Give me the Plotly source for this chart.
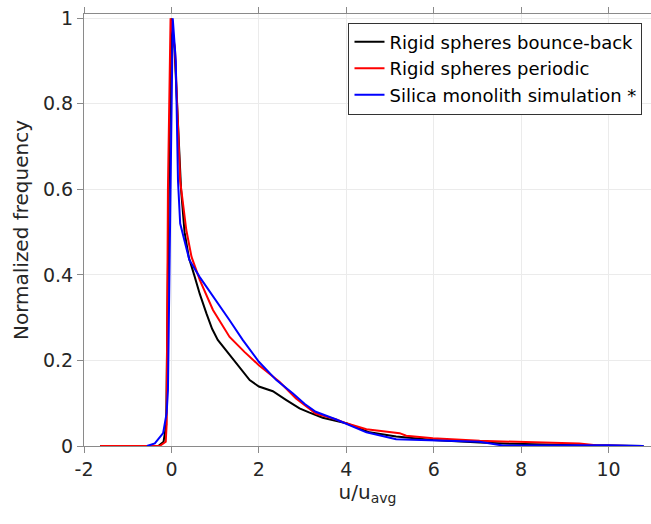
import plotly.graph_objects as go

# Rigid spheres bounce-back (black)
bb_x = [-1.63, -0.3, -0.18, -0.12, -0.06, 0.0, 0.07, 0.15, 0.22, 0.3, 0.4, 0.52, 0.65, 0.8, 0.93, 1.06, 1.2, 1.33, 1.6, 1.79, 2.0, 2.32, 2.62, 2.93, 3.16, 3.46, 4.0, 4.53, 5.14, 5.98, 7.05, 7.81, 9.33, 10.1, 10.8]
bb_y = [0, 0, 0.01, 0.05, 0.6, 1.0, 0.93, 0.75, 0.6, 0.5, 0.44, 0.4, 0.355, 0.31, 0.274, 0.248, 0.23, 0.215, 0.178, 0.154, 0.139, 0.128, 0.108, 0.088, 0.078, 0.066, 0.053, 0.032, 0.022, 0.014, 0.008, 0.005, 0.002, 0.001, 0]

# Rigid spheres periodic (red)
per_x = [-1.63, -0.27, -0.13, -0.11, -0.08, -0.02, 0.08, 0.2, 0.34, 0.46, 0.65, 0.95, 1.33, 1.67, 2.0, 2.32, 2.47, 2.85, 3.3, 3.77, 4.0, 4.46, 5.0, 5.22, 5.37, 5.98, 7.05, 8.57, 9.33, 9.71, 10.47]
per_y = [0, 0, 0.01, 0.05, 0.6, 1.0, 0.93, 0.62, 0.505, 0.442, 0.388, 0.318, 0.255, 0.22, 0.189, 0.162, 0.150, 0.111, 0.076, 0.062, 0.053, 0.039, 0.032, 0.030, 0.024, 0.018, 0.012, 0.008, 0.006, 0.002, 0]

# Silica monolith simulation (blue)
sil_x = [-0.56, -0.38, -0.19, -0.11, -0.08, 0.03, 0.1, 0.15, 0.2, 0.26, 0.41, 0.64, 1.02, 1.33, 1.63, 2.0, 2.4, 2.78, 3.05, 3.3, 3.77, 4.0, 4.46, 5.14, 5.98, 7.05, 7.58, 9.33, 10.0, 10.8]
sil_y = [0, 0.006, 0.03, 0.077, 0.13, 1.0, 0.9, 0.62, 0.52, 0.497, 0.435, 0.396, 0.341, 0.294, 0.248, 0.197, 0.154, 0.123, 0.098, 0.08, 0.062, 0.052, 0.032, 0.016, 0.014, 0.010, 0.001, 0.001, 0.002, 0]

names = ["Rigid spheres bounce-back", "Rigid spheres periodic", "Silica monolith simulation *"]
colors = ["#000000", "#ff0000", "#0000ff"]

x_ticks = [-2, 0, 2, 4, 6, 8, 10]
x_tick_text = ["-2", "0", "2", "4", "6", "8", "10"]
y_ticks = [0, 0.2, 0.4, 0.6, 0.8, 1]
y_tick_text = ["0", "0.2", "0.4", "0.6", "0.8", "1"]

FONT = "DejaVu Sans"

fig = go.Figure()
for xs, ys, nm, c in zip([bb_x, per_x, sil_x], [bb_y, per_y, sil_y], names, colors):
    fig.add_trace(go.Scatter(x=xs, y=ys, mode="lines", name=nm,
                             line=dict(color=c, width=2)))

axis_common = dict(
    showline=True, linecolor="#8a8a8a", linewidth=1,
    showgrid=True, gridcolor="#ebebeb", gridwidth=1,
    ticks="outside", ticklen=6, tickcolor="#8a8a8a",
    tickfont=dict(family=FONT, size=19, color="#262626"),
    zeroline=False,
)

fig.update_layout(
    width=651, height=524,
    margin=dict(l=84, r=0, t=14, b=78),
    paper_bgcolor="white", plot_bgcolor="white",
    font=dict(family=FONT, color="#262626"),
    xaxis=dict(range=[-2, 10.97], tickvals=x_ticks, ticktext=x_tick_text,
               mirror="ticks",
               title=dict(text="u/u<sub>avg</sub>", font=dict(family=FONT, size=20, color="#262626"), standoff=6),
               **axis_common),
    yaxis=dict(range=[0, 1.01], tickvals=y_ticks, ticktext=y_tick_text,
               mirror=False,
               title=dict(text="Normalized frequency", font=dict(family=FONT, size=20, color="#262626"), standoff=8),
               **axis_common),
    legend=dict(x=0.985, y=0.98, xanchor="right", yanchor="top",
                bgcolor="white", bordercolor="#333333", borderwidth=1,
                font=dict(family=FONT, size=18, color="#000000"),
                tracegroupgap=0, itemwidth=30),
    showlegend=True,
)

fig.write_html("out.html")
